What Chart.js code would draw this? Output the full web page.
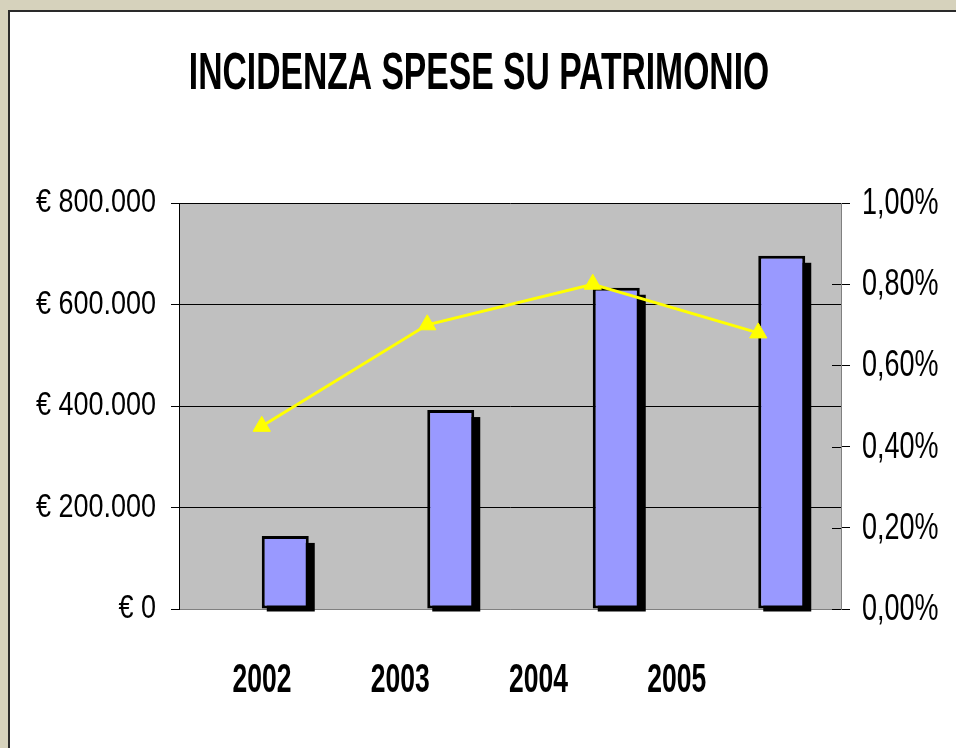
<!DOCTYPE html>
<html>
<head>
<meta charset="utf-8">
<script src="https://cdn.jsdelivr.net/npm/chart.js@4.4.1/dist/chart.umd.min.js"></script>
<style>
  html, body { margin: 0; padding: 0; width: 956px; height: 748px; overflow: hidden; background: #D6D2BC; }
  #frame { position: absolute; left: 8px; top: 10px; width: 1000px; height: 800px; background: #FFFFFF; border-left: 2px solid #2a2a2a; border-top: 2px solid #2a2a2a; }
  #wrap { position: absolute; left: 0; top: 0; width: 956px; height: 748px; }
</style>
</head>
<body>
<div id="frame"></div>
<div id="wrap"><canvas id="c" width="956" height="748"></canvas></div>
<script>
const categories = ['2002', '2003', '2004', '2005'];
const spese = [144000, 392000, 633000, 696000];
const incidenza = [0.0045, 0.0070, 0.0080, 0.0068];
const leftTicks = [0, 200000, 400000, 600000, 800000];
const rightTicks = [0, 0.002, 0.004, 0.006, 0.008, 0.010];
const titleText = 'INCIDENZA SPESE SU PATRIMONIO';

const FONT = "'Liberation Sans', Arial, sans-serif";

function euro(v) {
  const s = String(Math.round(v)).replace(/\B(?=(\d{3})+(?!\d))/g, '.');
  return '€ ' + s;
}
function pct(v) {
  return (v * 100).toFixed(2).replace('.', ',') + '%';
}

function drawText(ctx, text, x, y, align, font, sx, sy) {
  ctx.save();
  ctx.translate(x, y);
  ctx.scale(sx, sy);
  ctx.font = font;
  ctx.textAlign = align;
  ctx.textBaseline = 'alphabetic';
  ctx.fillStyle = '#000000';
  ctx.fillText(text, 0, 0);
  ctx.restore();
}

const plotBg = {
  id: 'plotBg',
  beforeDraw(chart) {
    const a = chart.chartArea, ctx = chart.ctx;
    ctx.save();
    ctx.fillStyle = '#C0C0C0';
    ctx.fillRect(a.left, a.top, a.right - a.left, a.bottom - a.top);
    ctx.restore();
  }
};

const barShadow = {
  id: 'barShadow',
  beforeDatasetDraw(chart, args) {
    if (args.meta.type !== 'bar' || args.index !== 2) return;
    const ctx = chart.ctx;
    ctx.save();
    ctx.fillStyle = '#000000';
    args.meta.data.forEach(el => {
      const p = el.getProps(['x', 'y', 'base', 'width'], true);
      if (p.y == null || isNaN(p.y)) return;
      const l = p.x - p.width / 2 + 5;
      const r = p.x + p.width / 2 + 6;
      ctx.fillRect(l, p.y + 7, r - l, (p.base + 3) - (p.y + 7));
    });
    ctx.restore();
  }
};

const texts = {
  id: 'texts',
  afterDraw(chart) {
    const a = chart.chartArea, ctx = chart.ctx;
    const ys = chart.scales.y, y1 = chart.scales.y1;
    // title
    drawText(ctx, titleText, 479, 89, 'center', 'bold 34px ' + FONT, 0.99, 1.5);
    // left tick labels
    leftTicks.forEach(v => {
      const py = ys.getPixelForValue(v);
      drawText(ctx, euro(v), ys.right - 23, py + 9, 'right', '27px ' + FONT, 1, 1.26);
    });
    // right tick labels + inner tick marks
    ctx.save();
    ctx.strokeStyle = '#000000';
    ctx.lineWidth = 1;
    rightTicks.forEach(v => {
      const py = Math.round(y1.getPixelForValue(v)) + 0.5;
      ctx.beginPath();
      ctx.moveTo(y1.left - 9, py);
      ctx.lineTo(y1.left, py);
      ctx.stroke();
    });
    ctx.restore();
    rightTicks.forEach(v => {
      const py = y1.getPixelForValue(v);
      drawText(ctx, pct(v), y1.left + 21, py + 11, 'left', '27px ' + FONT, 1, 1.4);
    });
    // category labels
    const w = a.right - a.left;
    categories.forEach((lab, i) => {
      const x = a.left + w * (0.1254 + i * 0.2088);
      drawText(ctx, lab, x, a.bottom + 83, 'center', 'bold 26.5px ' + FONT, 1, 1.5);
    });
  }
};

new Chart(document.getElementById('c'), {
  data: {
    labels: categories,
    datasets: [
      {
        type: 'line',
        label: 'Incidenza',
        data: incidenza,
        yAxisID: 'y1',
        borderColor: '#FFFF00',
        backgroundColor: '#FFFF00',
        borderWidth: 3,
        pointStyle: 'triangle',
        pointRadius: 10,
        pointHoverRadius: 10,
        pointBackgroundColor: '#FFFF00',
        pointBorderColor: '#FFFF00',
        pointBorderWidth: 1,
        tension: 0,
        order: 0,
        clip: false
      },
      {
        type: 'bar',
        label: '',
        data: categories.map(() => null),
        yAxisID: 'y',
        backgroundColor: 'rgba(0,0,0,0)',
        barPercentage: 1,
        categoryPercentage: 0.568,
        order: 1
      },
      {
        type: 'bar',
        label: 'Spese',
        data: spese,
        yAxisID: 'y',
        backgroundColor: '#9999FF',
        borderColor: '#000000',
        borderWidth: 3,
        borderSkipped: false,
        barPercentage: 1,
        categoryPercentage: 0.568,
        order: 2
      }
    ]
  },
  options: {
    responsive: false,
    animation: false,
    devicePixelRatio: 1,
    layout: { padding: { left: 0, right: 0, top: 203, bottom: 139 } },
    plugins: {
      legend: { display: false },
      tooltip: { enabled: false },
      title: { display: false }
    },
    scales: {
      x: {
        type: 'category',
        offset: true,
        grid: { display: false, drawTicks: false },
        border: { display: true, color: '#808080', width: 1 },
        ticks: { display: false },
        afterFit(s) { s.height = 0; }
      },
      y: {
        position: 'left',
        min: 0,
        max: 800000,
        afterBuildTicks(s) { s.ticks = leftTicks.map(v => ({ value: v })); },
        ticks: { display: false },
        grid: {
          color: (c) => (c.tick && c.tick.value === 0 ? '#808080' : '#000000'),
          lineWidth: 1,
          drawTicks: true,
          tickLength: 8,
          tickColor: '#000000'
        },
        border: { display: true, color: '#000000', width: 1 },
        afterFit(s) { s.width = 179; }
      },
      y1: {
        position: 'right',
        min: 0,
        max: 0.01,
        afterBuildTicks(s) { s.ticks = rightTicks.map(v => ({ value: v })); },
        ticks: { display: false },
        grid: {
          drawOnChartArea: false,
          drawTicks: true,
          tickLength: 9,
          tickColor: '#000000'
        },
        border: { display: true, color: '#808080', width: 1 },
        afterFit(s) { s.width = 115; }
      }
    }
  },
  plugins: [plotBg, barShadow, texts]
});
</script>
</body>
</html>
